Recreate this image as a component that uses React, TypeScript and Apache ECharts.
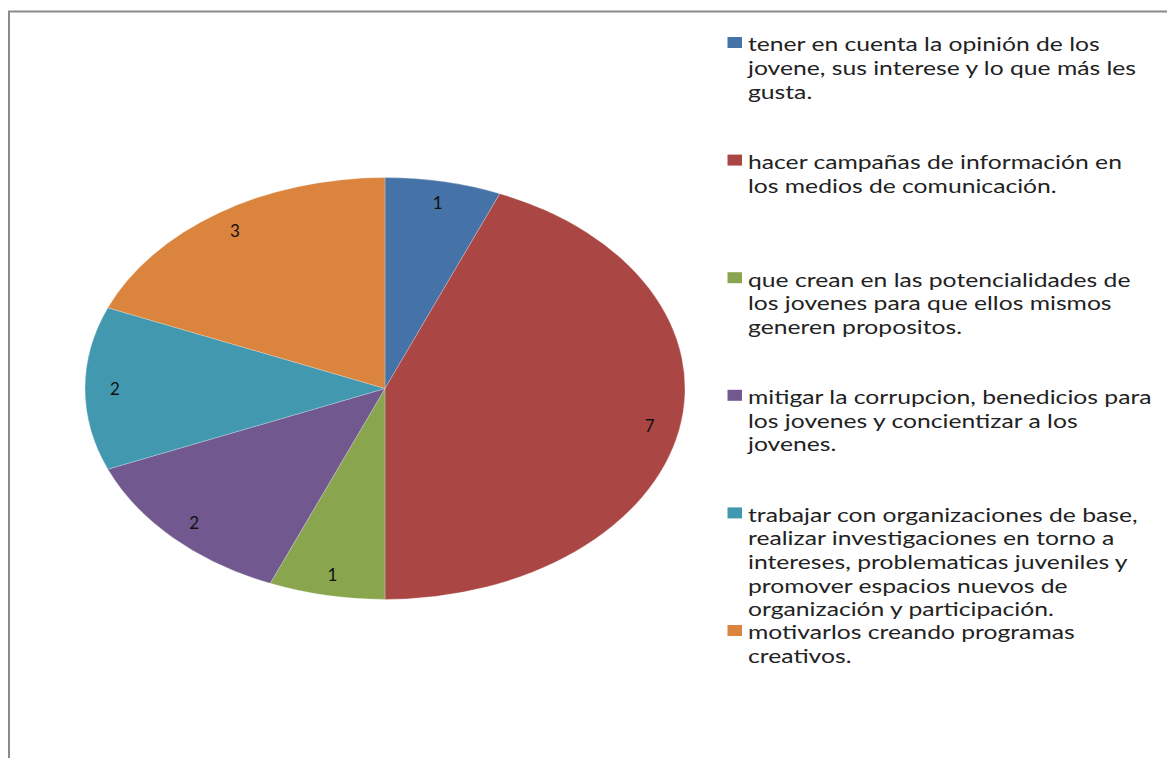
import React, { useEffect, useRef } from "react";
import * as echarts from "echarts";

const categories: string[] = [
  "tener en cuenta la opinión de los\njovene, sus interese y lo que más les\ngusta.",
  "hacer campañas de información en\nlos medios de comunicación.",
  "que crean en las potencialidades de\nlos jovenes para que ellos mismos\ngeneren propositos.",
  "mitigar la corrupcion, benedicios para\nlos jovenes y concientizar a los\njovenes.",
  "trabajar con organizaciones de base,\nrealizar investigaciones en torno a\nintereses, problematicas juveniles y\npromover espacios nuevos de\norganización y participación.",
  "motivarlos creando programas\ncreativos.",
];
const values: number[] = [1, 7, 1, 2, 2, 3];
const colors: string[] = ["#4572A7", "#AA4643", "#89A54E", "#71588F", "#4198AF", "#DB843D"];

const CX = 385;
const CY = 388.5;
const RX = 300;
const RY = 211;
const FONT = "Lato, 'Open Sans', sans-serif";

export default function App() {
  const ref = useRef<HTMLDivElement>(null);
  useEffect(() => {
    if (!ref.current) return;
    const chart = echarts.init(ref.current, undefined, { renderer: "svg" });
    const total = values.reduce((a, b) => a + b, 0);

    const legendGraphics: any[] = [];
    const legendTop = 44;
    const legendStep = 117.6;
    const lineH = 23.6;
    categories.forEach((name, i) => {
      const yc = legendTop + i * legendStep;
      legendGraphics.push({
        type: "rect",
        shape: { x: 727.5, y: yc - 7, width: 14.5, height: 11 },
        style: { fill: colors[i] },
      });
      legendGraphics.push({
        type: "text",
        x: 748,
        y: yc - lineH / 2,
        scaleX: 1.3,
        style: {
          text: name,
          font: `19px ${FONT}`,
          lineHeight: lineH,
          fill: "#222222",
          verticalAlign: "top",
          align: "left",
        },
      });
    });

    chart.setOption({
      animation: false,
      backgroundColor: "#ffffff",
      graphic: [
        {
          type: "polyline",
          shape: { points: [[9, 758], [9, 11.5], [1167, 11.5]] },
          style: { stroke: "#8a8a8a", lineWidth: 2, fill: "none" },
        },
        ...legendGraphics,
      ],
      series: [
        {
          type: "custom",
          coordinateSystem: "none",
          data: values.map((v, i) => ({ name: categories[i], value: v })),
          renderItem: (params: any, api: any) => {
            const i = params.dataIndex;
            const v = api.value(0) as number;
            let before = 0;
            for (let k = 0; k < i; k++) before += values[k];
            const start = -Math.PI / 2 + (before / total) * Math.PI * 2;
            const end = start + (v / total) * Math.PI * 2;
            const mid = (start + end) / 2;
            const lr = 0.9;
            return {
              type: "group",
              children: [
                {
                  type: "group",
                  x: CX,
                  y: CY,
                  scaleY: RY / RX,
                  children: [
                    {
                      type: "sector",
                      shape: { cx: 0, cy: 0, r: RX, r0: 0, startAngle: start, endAngle: end, clockwise: true },
                      style: { fill: colors[i], stroke: "rgba(255,255,255,0.35)", lineWidth: 0.8 },
                    },
                  ],
                },
                {
                  type: "text",
                  x: CX + lr * RX * Math.cos(mid),
                  y: CY + lr * RY * Math.sin(mid),
                  style: {
                    text: String(v),
                    font: `17px ${FONT}`,
                    fill: "#111111",
                    align: "center",
                    verticalAlign: "middle",
                  },
                },
              ],
            };
          },
        },
      ],
    });
    return () => chart.dispose();
  }, []);
  return (
    <div
      ref={ref}
      style={{ position: "absolute", left: 0, top: 0, width: 1167, height: 758 }}
    />
  );
}
